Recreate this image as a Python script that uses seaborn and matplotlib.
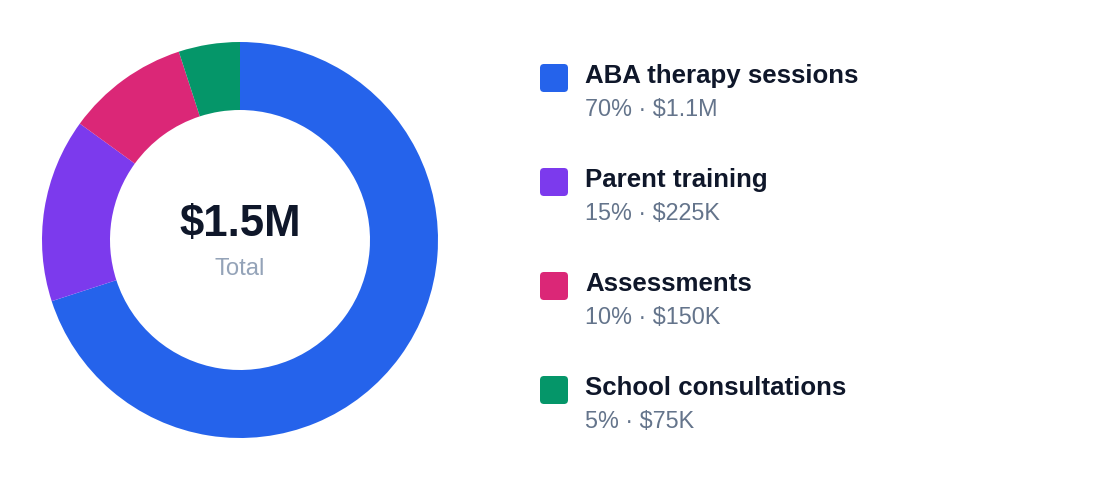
import matplotlib
matplotlib.use("Agg")
import matplotlib.pyplot as plt
from matplotlib.patches import FancyBboxPatch
import seaborn as sns

sns.set_theme(style="white")
plt.rcParams["font.family"] = ["Liberation Sans", "DejaVu Sans"]

# data
categories = ["ABA therapy sessions", "Parent training", "Assessments", "School consultations"]
shares = [70, 15, 10, 5]
amounts = ["$1.1M", "$225K", "$150K", "$75K"]
total_label = "$1.5M"
colors = ["#2563EB", "#7C3AED", "#DB2777", "#059669"]

W, H = 1120, 488
fig = plt.figure(figsize=(W / 100, H / 100), dpi=100)

# donut, centre (240, 240) px, radius 198 px
cx, cy, r = 240, 240, 198
pie_ax = fig.add_axes([(cx - r) / W, (H - cy - r) / H, 2 * r / W, 2 * r / H])
pie_ax.pie(shares, colors=colors, startangle=90, counterclock=False, radius=1,
           wedgeprops=dict(width=68 / 198, linewidth=0))
pie_ax.set_xlim(-1, 1)
pie_ax.set_ylim(-1, 1)
pie_ax.set_aspect("equal")
pie_ax.axis("off")

# overlay in pixel coordinates for text and legend
ov = fig.add_axes([0, 0, 1, 1])
ov.set_xlim(0, W)
ov.set_ylim(H, 0)
ov.axis("off")

ov.text(cx, 236, total_label, ha="center", va="baseline", fontsize=31.5,
        fontweight="bold", color="#0F172A")
ov.text(cx, 275, "Total", ha="center", va="baseline", fontsize=17.2, color="#94A3B8")

row0, step = 78, 104
for i, (name, pct, amt, col) in enumerate(zip(categories, shares, amounts, colors)):
    y = row0 + i * step
    ov.add_patch(FancyBboxPatch((540 + 4, y - 14 + 4), 20, 20,
                                boxstyle="round,pad=4", facecolor=col, edgecolor="none"))
    ov.text(585, y + 5, name, ha="left", va="baseline", fontsize=18.6,
            fontweight="bold", color="#0F172A")
    ov.text(585, y + 38, f"{pct}% \u00b7 {amt}", ha="left", va="baseline",
            fontsize=16.8, color="#64748B")

fig.savefig("out.png", dpi=100, facecolor="white")
plt.close(fig)
